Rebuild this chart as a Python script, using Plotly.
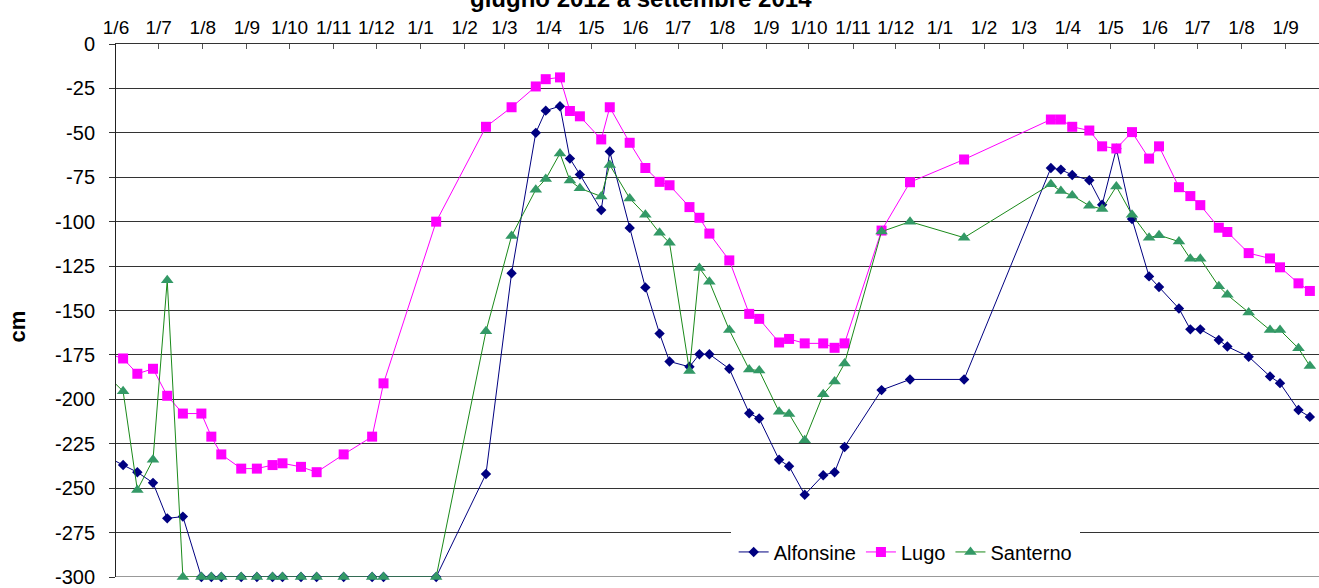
import plotly.graph_objects as go

# ---- data ----
# value just before the left edge of the axis (only the line stub is visible)
lead_date = "2012-05-25"
lead_alfonsine = -232
lead_lugo = -174
lead_santerno = -186

dates = [
    "2012-06-06", "2012-06-16", "2012-06-27", "2012-07-07", "2012-07-18", "2012-07-31",
    "2012-08-07", "2012-08-14", "2012-08-28", "2012-09-08", "2012-09-19", "2012-09-26",
    "2012-10-09", "2012-10-20", "2012-11-08", "2012-11-28", "2012-12-06",
    "2013-01-12", "2013-02-16", "2013-03-06", "2013-03-23", "2013-03-30", "2013-04-09",
    "2013-04-16", "2013-04-23", "2013-05-08", "2013-05-14", "2013-05-28", "2013-06-08",
    "2013-06-18", "2013-06-25", "2013-07-09", "2013-07-16", "2013-07-23", "2013-08-06",
    "2013-08-20", "2013-08-27", "2013-09-10", "2013-09-17", "2013-09-28", "2013-10-11",
    "2013-10-19", "2013-10-26", "2013-11-21", "2013-12-11",
    "2014-01-18", "2014-03-20", "2014-03-27", "2014-04-04", "2014-04-16", "2014-04-25",
    "2014-05-05", "2014-05-16", "2014-05-28", "2014-06-04", "2014-06-18", "2014-06-26",
    "2014-07-03", "2014-07-16", "2014-07-22", "2014-08-06", "2014-08-21", "2014-08-28",
    "2014-09-10", "2014-09-18",
]

alfonsine = [
    -237, -241, -247, -267, -266, -300,
    -300, -300, -300, -300, -300, -300,
    -300, -300, -300, -300, -300,
    -300, -242, -129, -50, -37.5, -35,
    -64.5, -73.5, -93.5, -60.5, -103.5, -137,
    -163, -178.7, -181.7, -174.6, -174.6, -182.8,
    -207.8, -210.8, -234, -237.7, -253.7, -242.7,
    -241, -226.8, -194.8, -188.8,
    -188.8, -69.8, -70.7, -73.7, -76.7, -90.5,
    -59, -98.5, -130.8, -136.8, -148.9, -160.6,
    -160.6, -166.6, -170.3, -176, -187.1, -190.9,
    -206, -209.9,
]

lugo = [
    -177, -185.6, -182.8, -198, -208, -208,
    -221, -231, -239, -239, -237, -236,
    -238, -241, -231, -221, -191,
    -100, -46.6, -35.6, -23.9, -19.8, -18.8,
    -37.7, -40.7, -53.7, -35.6, -55.6, -69.8,
    -77.6, -79.5, -91.8, -97.8, -106.7, -121.8,
    -151.9, -154.7, -168, -166, -168.5, -168.5,
    -171, -168.5, -105, -77.8,
    -65, -42.5, -42.5, -46.6, -48.7, -57.6,
    -58.8, -49.6, -64.5, -57.6, -80.6, -85.6,
    -90.7, -103.4, -105.8, -117.7, -120.7, -125.7,
    -134.7, -139,
]

santerno = [
    -195.5, -251, -234, -133, -300, -300,
    -300, -300, -300, -300, -300, -300,
    -300, -300, -300, -300, -300,
    -300, -161.7, -108, -82, -76, -61.6,
    -76.8, -81.2, -85.8, -68.1, -86.9, -96.1,
    -106.3, -111.9, -184, -126.1, -133.8, -161,
    -183.2, -183.8, -207, -208.2, -223, -197.2,
    -189.9, -179.8, -105.6, -100,
    -109, -78.9, -82.8, -85.3, -91, -92.9,
    -80.2, -96.1, -109, -107.6, -111.2, -120.9,
    -120.9, -136.4, -141.2, -151.1, -161, -161,
    -171.3, -181.2,
]

series_names = ["Alfonsine", "Lugo", "Santerno"]
y_tickvals = [0, -25, -50, -75, -100, -125, -150, -175, -200, -225, -250, -275, -300]
y_ticktext = ["0", "-25", "-50", "-75", "-100", "-125", "-150", "-175", "-200",
              "-225", "-250", "-275", "-300"]
y_min, y_max = -300, 0
title_text = "giugno 2012 a settembre 2014"
y_title = "cm"

FONT = "Liberation Sans, Arial, sans-serif"

styles = [
    dict(line="#000080", marker="#000080", symbol="diamond", size=8),
    dict(line="#FF00FF", marker="#FF00FF", symbol="square", size=10),
    dict(line="#1A8A1A", marker="#339966", symbol="triangle-up", size=11),
]
series = [alfonsine, lugo, santerno]
leads = [lead_alfonsine, lead_lugo, lead_santerno]

fig = go.Figure()
for name, vals, lead, st in zip(series_names, series, leads, styles):
    # short line stub coming from before the axis start (clipped by the plot area)
    fig.add_trace(go.Scatter(
        x=[lead_date, dates[0]], y=[lead, vals[0]], mode="lines",
        line=dict(color=st["line"], width=1), showlegend=False, hoverinfo="skip",
    ))
    fig.add_trace(go.Scatter(
        x=dates, y=vals, name=name, mode="lines+markers", cliponaxis=False,
        line=dict(color=st["line"], width=1),
        marker=dict(symbol=st["symbol"], size=st["size"], color=st["marker"],
                    line=dict(width=0)),
    ))

fig.update_layout(
    width=1319, height=588,
    margin=dict(l=116, r=0, t=44, b=8),
    paper_bgcolor="white", plot_bgcolor="white",
    font=dict(family=FONT, color="black", size=19),
    showlegend=True,
    legend=dict(
        orientation="h", x=0.656, y=0.047, xanchor="center", yanchor="middle",
        bgcolor="white", bordercolor="white", borderwidth=3,
        font=dict(family=FONT, size=20, color="black"),
    ),
    xaxis=dict(
        type="date", side="top",
        range=["2012-06-01", "2014-09-24 10:00"],
        tick0="2012-06-01", dtick="M1", tickformat="%-d/%-m",
        ticks="inside", ticklen=5, tickcolor="#555", tickwidth=1,
        showline=True, linecolor="#333", linewidth=1,
        showgrid=False, zeroline=False, tickangle=0,
        ticklabelstandoff=1,
        tickfont=dict(family=FONT, size=19, color="black"),
    ),
    yaxis=dict(
        range=[y_min, y_max], tickmode="array", tickvals=y_tickvals, ticktext=y_ticktext,
        ticks="outside", ticklen=6, tickcolor="#333",
        showline=True, linecolor="#222", linewidth=1,
        showgrid=True, gridcolor="#333", gridwidth=1,
        zeroline=False, ticklabelstandoff=10, ticklabeloverflow="allow",
        tickfont=dict(family=FONT, size=20, color="black"),
    ),
    shapes=[
        # bottom gridline (plotly skips grid lines lying on the range ends)
        dict(type="line", xref="paper", x0=0, x1=1, yref="y", y0=y_min, y1=y_min,
             line=dict(color="#333", width=1), layer="below"),
    ],
    annotations=[
        dict(text="<b>" + title_text + "</b>", xref="paper", yref="paper",
             x=0.436, y=1.056, xanchor="center", yanchor="bottom", showarrow=False,
             font=dict(family=FONT, size=24, color="black")),
        dict(text="<b>" + y_title + "</b>", xref="paper", yref="paper",
             x=-0.0815, y=0.47, xanchor="center", yanchor="middle", showarrow=False,
             textangle=-90, font=dict(family=FONT, size=22, color="black")),
    ],
)

fig.write_html("out.html", config={"displayModeBar": False},
               post_script="document.body.style.margin='0';")
